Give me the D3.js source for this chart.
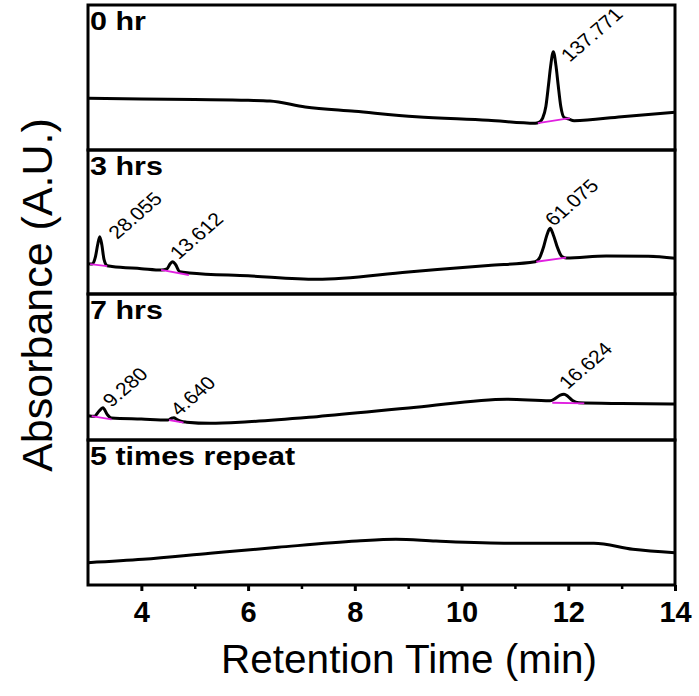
<!DOCTYPE html>
<html><head><meta charset="utf-8">
<script src="https://cdn.jsdelivr.net/npm/d3@7"></script>
<style>body{margin:0;background:#fff}svg{display:block}text{font-family:Arial,"Liberation Sans",sans-serif}</style>
</head><body>
<div id="chart"></div>
<script>
// ---- data ----
const panelLabels = ["0 hr", "3 hrs", "7 hrs", "5 times repeat"];
const xTicks = [4, 6, 8, 10, 12, 14];
const xMinorTicks = [5, 7, 9, 11, 13];

const trace0T = [3.0, 4.0, 5.0, 6.0, 6.41, 7.07, 8.0, 9.15, 10.5, 11.38, 11.45, 11.52, 11.58, 11.63, 11.67, 11.72, 11.77, 11.81, 11.86, 11.92, 12.0, 12.11, 13.0, 14.0];
const trace0V = [35.7, 35.2, 34.8, 34.3, 33.8, 29.7, 26.7, 23.0, 20.5, 18.4, 19.0, 22.0, 30.0, 45.0, 58.0, 67.8, 58.0, 45.0, 30.0, 22.5, 21.5, 20.2, 23.0, 26.0];

const trace1T = [3.0, 3.08, 3.14, 3.18, 3.22, 3.26, 3.30, 3.36, 3.45, 4.0, 4.38, 4.48, 4.54, 4.59, 4.64, 4.72, 4.9, 6.0, 7.29, 9.0, 10.5, 11.38, 11.46, 11.54, 11.6, 11.66, 11.72, 11.8, 11.88, 11.96, 12.71, 13.5, 14.0];
const trace1V = [21.0, 20.8, 26.0, 34.0, 39.8, 34.0, 24.0, 19.6, 19.1, 17.6, 16.6, 17.5, 21.0, 22.4, 20.5, 15.5, 14.6, 12.6, 10.2, 15.3, 19.8, 22.4, 25.0, 33.0, 41.0, 45.6, 41.0, 32.0, 26.0, 25.0, 26.4, 26.2, 24.8];

const trace2T = [3.0, 3.12, 3.2, 3.28, 3.36, 3.44, 4.0, 4.5, 4.56, 4.61, 4.66, 4.74, 4.85, 5.29, 6.0, 7.29, 9.15, 10.85, 11.66, 11.76, 11.85, 11.92, 11.99, 12.08, 12.2, 13.0, 14.0];
const trace2V = [16.6, 16.2, 19.5, 22.1, 17.5, 15.0, 14.3, 13.7, 14.8, 15.3, 14.2, 12.8, 12.2, 11.4, 12.5, 16.0, 22.4, 27.9, 26.9, 28.5, 30.8, 31.3, 30.0, 27.0, 25.5, 25.0, 24.7];

const trace3T = [3.0, 4.03, 5.29, 6.56, 8.04, 8.77, 9.52, 11.0, 12.48, 13.21, 14.0];
const trace3V = [15.4, 17.7, 21.9, 26.0, 30.3, 31.5, 30.3, 28.8, 28.8, 24.6, 22.3];

// integration baselines: [t0, v0, t1, v1]
const baselines0 = [[11.43, 18.6, 12.03, 22.0]];
const baselines1 = [[3.04, 20.8, 3.36, 19.4], [4.37, 16.7, 4.89, 13.2], [11.40, 22.4, 11.96, 25.2]];
const baselines2 = [[3.07, 16.4, 3.44, 14.2], [4.52, 13.7, 4.79, 11.9], [11.70, 25.5, 12.30, 25.1]];
const baselines3 = [];

// peak area labels: [text, t, v]
const peakLabels0 = [["137.771", 12.03, 60.2]];
const peakLabels1 = [["28.055", 3.55, 37.5], ["13.612", 4.70, 23.5], ["61.075", 11.73, 46.5]];
const peakLabels2 = [["9.280", 3.44, 21.9], ["4.640", 4.71, 16.0], ["16.624", 11.99, 34.2]];
const peakLabels3 = [];

const traces = [[trace0T, trace0V], [trace1T, trace1V], [trace2T, trace2V], [trace3T, trace3V]];
const baselines = [baselines0, baselines1, baselines2, baselines3];
const peakLabels = [peakLabels0, peakLabels1, peakLabels2, peakLabels3];

// ---- layout ----
const W = 699, H = 696;
const left = 88, right = 675;
const panelEdges = [5, 150, 294, 440, 585];

const svg = d3.select("#chart").append("svg").attr("width", W).attr("height", H);
const x = d3.scaleLinear().domain([3, 14]).range([left, right]);

panelLabels.forEach((lab, i) => {
  const top = panelEdges[i], bot = panelEdges[i + 1];
  const y = d3.scaleLinear().domain([0, 100]).range([bot, top]);
  const g = svg.append("g");
  const [ts, vs] = traces[i];
  const pts = ts.map((t, k) => [t, vs[k]]);
  g.append("path").datum(pts)
    .attr("fill", "none").attr("stroke", "#000").attr("stroke-width", 3)
    .attr("stroke-linejoin", "round")
    .attr("d", d3.line().x(d => x(d[0])).y(d => y(d[1])).curve(d3.curveMonotoneX));
  baselines[i].forEach(b => {
    g.append("line").attr("x1", x(b[0])).attr("y1", y(b[1])).attr("x2", x(b[2])).attr("y2", y(b[3]))
      .attr("stroke", "#e020e0").attr("stroke-width", 1.8);
  });
  peakLabels[i].forEach(p => {
    g.append("text").attr("transform", `translate(${x(p[1])},${y(p[2])}) scale(1.15,1) rotate(-45)`)
      .attr("font-size", 18.5).attr("fill", "#000").text(p[0]);
  });
  g.append("text").attr("transform", `translate(${left + 2},${top + 25}) scale(1.22,1)`)
    .attr("font-size", 25).attr("font-weight", "bold").text(lab);
  g.append("rect").attr("x", left).attr("y", top).attr("width", right - left).attr("height", bot - top)
    .attr("fill", "none").attr("stroke", "#000").attr("stroke-width", 3);
});

// x axis
const axisY = panelEdges[4];
const ax = svg.append("g").attr("transform", `translate(0,${axisY})`)
  .call(d3.axisBottom(x).tickValues(xTicks).tickFormat(d3.format("d")).tickSize(6).tickPadding(10));
ax.select(".domain").remove();
ax.selectAll(".tick line").attr("stroke", "#000").attr("stroke-width", 3);
ax.selectAll(".tick text").attr("font-size", 29).attr("font-weight", "bold")
  .attr("font-family", "Arial, 'Liberation Sans', sans-serif").attr("fill", "#000");
svg.append("g").attr("transform", `translate(0,${axisY})`)
  .call(d3.axisBottom(x).tickValues(xMinorTicks).tickSize(4).tickFormat(""))
  .call(g => g.select(".domain").remove())
  .selectAll(".tick line").attr("stroke", "#000").attr("stroke-width", 2.5);

svg.append("text").attr("x", 409).attr("y", 673).attr("text-anchor", "middle")
  .attr("font-size", 40.5).text("Retention Time (min)");
svg.append("text").attr("transform", `translate(52,${(panelEdges[0] + panelEdges[4]) / 2}) rotate(-90)`)
  .attr("text-anchor", "middle").attr("font-size", 43).text("Absorbance (A.U.)");
</script>
</body></html>
